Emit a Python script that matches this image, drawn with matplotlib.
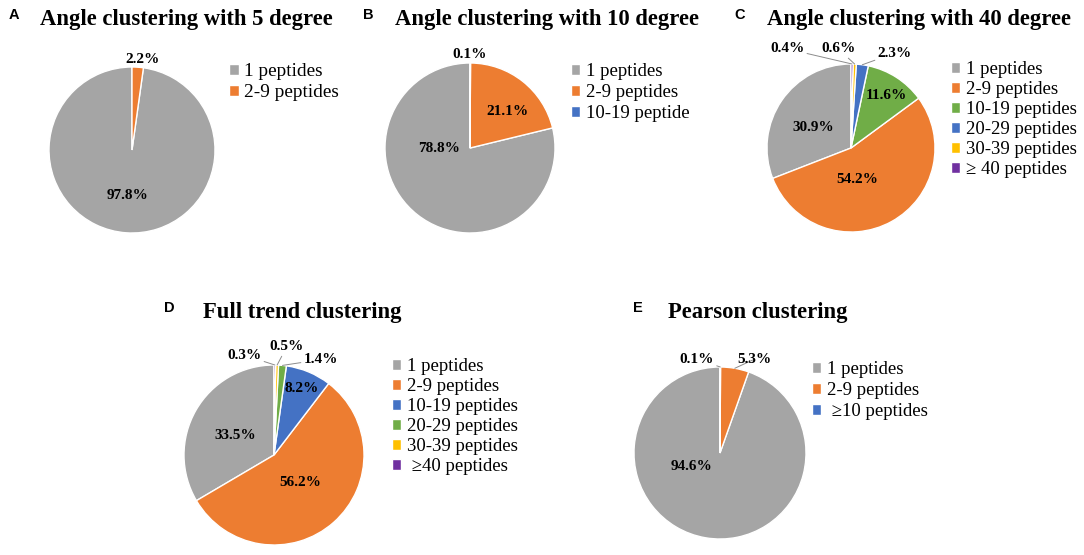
import numpy as np
import matplotlib.pyplot as plt

plt.rcParams['font.family'] = ['Liberation Serif', 'DejaVu Serif']

W, H = 1084, 555

gray = '#A5A5A5'
orange = '#ED7D31'
blue = '#4472C4'
green = '#70AD47'
yellow = '#FFC000'
purple = '#7030A0'

# A: angle clustering, 5 degree
a_labels = ['1 peptides', '2-9 peptides']
a_values = [97.8, 2.2]
a_colors = [gray, orange]

# B: angle clustering, 10 degree
b_labels = ['1 peptides', '2-9 peptides', '10-19 peptide']
b_values = [78.8, 21.1, 0.1]
b_colors = [gray, orange, blue]

# C: angle clustering, 40 degree
c_labels = ['1 peptides', '2-9 peptides', '10-19 peptides', '20-29 peptides',
            '30-39 peptides', '\u2265 40 peptides']
c_values = [30.9, 54.2, 11.6, 2.3, 0.6, 0.4]
c_colors = [gray, orange, green, blue, yellow, purple]

# D: full trend clustering
d_labels = ['1 peptides', '2-9 peptides', '10-19 peptides', '20-29 peptides',
            '30-39 peptides', ' \u226540 peptides']
d_values = [33.5, 56.2, 8.2, 1.4, 0.5, 0.3]
d_colors = [gray, orange, blue, green, yellow, purple]

# E: pearson clustering
e_labels = ['1 peptides', '2-9 peptides', ' \u226510 peptides']
e_values = [94.6, 5.3, 0.1]
e_colors = [gray, orange, blue]

fig = plt.figure(figsize=(W / 100, H / 100), dpi=100)


def fx(x):
    return x / W


def fy(y):
    return 1 - y / H


def panel(letter, title, values, labels, colors, center, radius,
          letter_x, title_x, title_y, legend_xy, label_pos, leaders,
          legend_size=13.5, spacing=0.22):
    cx, cy = center
    ax = fig.add_axes([fx(cx - radius), fy(cy + radius), 2 * radius / W, 2 * radius / H])
    wedges, _ = ax.pie(values, colors=colors, startangle=90, counterclock=True,
                       radius=1, wedgeprops=dict(edgecolor='white', linewidth=1))
    ax.set_xlim(-1, 1)
    ax.set_ylim(-1, 1)
    ax.axis('off')
    for w, v, pos, lead in zip(wedges, values, label_pos, leaders):
        txt = '{:.1f}%'.format(v)
        if lead:
            mid = np.deg2rad((w.theta1 + w.theta2) / 2)
            ax.annotate(txt, xy=(np.cos(mid), np.sin(mid)), xytext=pos,
                        ha='center', va='center', fontsize=11, fontweight='bold',
                        arrowprops=dict(arrowstyle='-', color='#8c8c8c', lw=0.7,
                                        shrinkA=0, shrinkB=0),
                        annotation_clip=False)
        else:
            ax.text(pos[0], pos[1], txt, ha='center', va='center',
                    fontsize=11, fontweight='bold')
    fig.text(fx(letter_x), fy(title_y - 6), letter, family='Liberation Sans',
             fontweight='bold', fontsize=10.5, va='baseline')
    fig.text(fx(title_x), fy(title_y), title, fontsize=16.3, fontweight='bold',
             va='baseline')
    fig.legend(wedges, labels, loc='upper left',
               bbox_to_anchor=(fx(legend_xy[0]), fy(legend_xy[1])),
               frameon=False, fontsize=legend_size, handlelength=0.5, handleheight=0.5,
               handletextpad=0.3, labelspacing=spacing, borderpad=0, borderaxespad=0)


panel('A', 'Angle clustering with 5 degree', a_values, a_labels, a_colors,
      (132, 150), 83, 9, 40, 25, (229, 63),
      [(-0.05, -0.55), (0.13, 1.09)], [False, False], legend_size=13.9)

panel('B', 'Angle clustering with 10 degree', b_values, b_labels, b_colors,
      (470, 148), 85, 363, 395, 25, (571, 63),
      [(-0.36, 0.0), (0.44, 0.43), (0.0, 1.1)], [False, False, False])

panel('C', 'Angle clustering with 40 degree', c_values, c_labels, c_colors,
      (851, 148), 84, 734, 767, 25, (951, 61),
      [(-0.45, 0.24), (0.08, -0.38), (0.42, 0.63), (0.52, 1.13),
       (-0.15, 1.18), (-0.76, 1.18)],
      [False, False, False, True, True, True], spacing=0.16)

panel('D', 'Full trend clustering', d_values, d_labels, d_colors,
      (274, 455), 90, 164, 203, 318, (392, 358),
      [(-0.43, 0.22), (0.29, -0.30), (0.31, 0.74), (0.52, 1.06),
       (0.14, 1.2), (-0.33, 1.11)],
      [False, False, False, True, True, True], spacing=0.16)

panel('E', 'Pearson clustering', e_values, e_labels, e_colors,
      (720, 453), 86, 633, 668, 318, (812, 361),
      [(-0.33, -0.16), (0.40, 1.09), (-0.27, 1.09)],
      [False, True, True])

fig.savefig('out.png', dpi=100)
